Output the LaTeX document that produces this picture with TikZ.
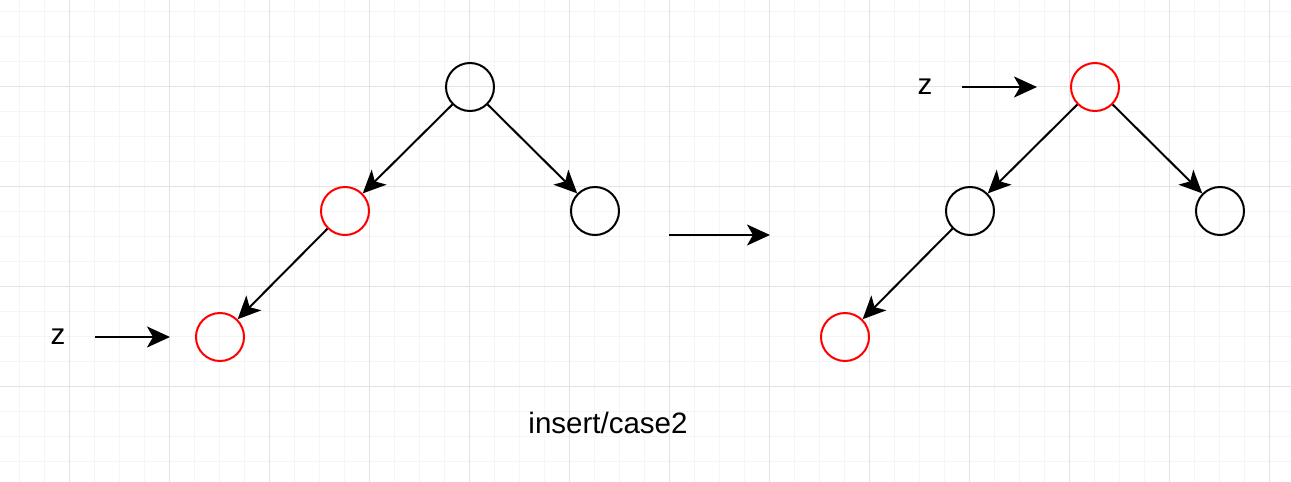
\documentclass[tikz,border=0pt]{standalone}
\usepackage{fontspec}
\setmainfont{Liberation Sans}
\usetikzlibrary{arrows.meta, positioning}

\definecolor{gridminor}{HTML}{F5F5F5}
\definecolor{gridmajor}{HTML}{E3E3E3}

\tikzset{
    rbnode/.style={circle, draw=black, line width=2pt, minimum size=48pt, inner sep=0pt},
    rednode/.style={rbnode, draw=red},
    treeedge/.style={line width=2pt, -{Stealth[length=23pt, width=21pt, inset=6pt]}},
    label/.style={font=\fontsize{29.5}{34}\selectfont}
}

\begin{document}
\begin{tikzpicture}[x=1pt, y=-1pt]
    \useasboundingbox (0,0) rectangle (1291,482);
    \fill[white] (0,0) rectangle (1291,482); % Background

    % Grid
    \foreach \x in {19,44,...,1291} \draw[gridminor, line width=1pt] (\x,0) -- (\x,482);
    \foreach \y in {11,36,...,482} \draw[gridminor, line width=1pt] (0,\y) -- (1291,\y);
    \foreach \x in {69,169,...,1291} \draw[gridmajor, line width=1pt] (\x,0) -- (\x,482);
    \foreach \y in {86,186,...,482} \draw[gridmajor, line width=1pt] (0,\y) -- (1291,\y);

    % Before
    \node[rbnode] (root1) at (470,87) {};
    \node[rednode] (left1) at (345,211) {};
    \node[rbnode] (right1) at (595,211) {};
    \node[rednode] (leaf1) at (220,337) {};
    \draw[treeedge] (root1) -- (left1);
    \draw[treeedge] (root1) -- (right1);
    \draw[treeedge] (left1) -- (leaf1);

    \node[label] (z1) at (58,337) {z};
    \coordinate (zs1) at (95,337);
    \coordinate (ze1) at (170,337);
    \draw[treeedge] (zs1) -- (ze1);

    % Step
    \coordinate (ms) at (669,235);
    \coordinate (me) at (770,235);
    \draw[treeedge] (ms) -- (me);

    % After
    \node[rednode] (root2) at (1095,87) {};
    \node[rbnode] (left2) at (970,211) {};
    \node[rbnode] (right2) at (1220,211) {};
    \node[rednode] (leaf2) at (845,337) {};
    \draw[treeedge] (root2) -- (left2);
    \draw[treeedge] (root2) -- (right2);
    \draw[treeedge] (left2) -- (leaf2);

    \node[label] (z2) at (925,87) {z};
    \coordinate (zs2) at (962,87);
    \coordinate (ze2) at (1037,87);
    \draw[treeedge] (zs2) -- (ze2);

    \node[label] (caption) at (608,423) {insert/case2};
\end{tikzpicture}
\end{document}
